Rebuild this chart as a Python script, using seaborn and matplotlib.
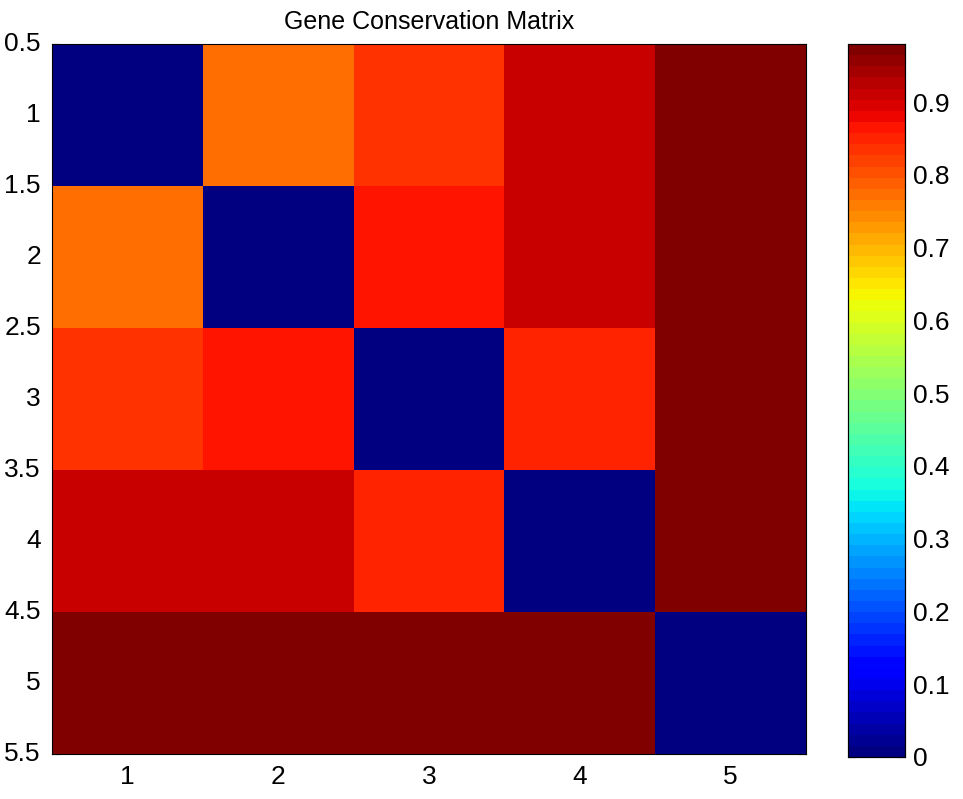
import numpy as np
import pandas as pd
import matplotlib
matplotlib.use('Agg')
import matplotlib.pyplot as plt
import seaborn as sns

# gene labels and pairwise conservation values
genes = [1, 2, 3, 4, 5]
row1 = [0.00, 0.775, 0.835, 0.91, 0.98]
row2 = [0.775, 0.00, 0.865, 0.91, 0.98]
row3 = [0.835, 0.865, 0.00, 0.85, 0.98]
row4 = [0.91, 0.91, 0.85, 0.00, 0.98]
row5 = [0.98, 0.98, 0.98, 0.98, 0.00]

df = pd.DataFrame([row1, row2, row3, row4, row5], index=genes, columns=genes)

sns.set_style('ticks')
plt.rcParams['font.family'] = ['Liberation Sans', 'DejaVu Sans']
plt.rcParams['text.color'] = 'black'
plt.rcParams['xtick.color'] = 'black'
plt.rcParams['ytick.color'] = 'black'

fig = plt.figure(figsize=(9.63, 7.99), dpi=100)
ax = fig.add_axes([0.054, 0.0563, 0.783, 0.8886])
cax = fig.add_axes([0.8806, 0.0526, 0.0592, 0.8923])

jet = plt.get_cmap('jet', 64)
sns.heatmap(df, ax=ax, cmap=jet, vmin=0, vmax=df.values.max(),
            cbar_ax=cax, square=False, linewidths=0)

# matlab style axis ticks
ypos = np.arange(0, 5.01, 0.5)
ax.set_yticks(ypos)
ax.set_yticklabels([f'{p + 0.5:g}' for p in ypos], rotation=0, fontsize=19)
ax.set_xticks(np.arange(len(genes)) + 0.5)
ax.set_xticklabels(genes, fontsize=19)
ax.tick_params(direction='in', length=6, width=0.8, bottom=True, left=True,
               top=True, right=True, labeltop=False, labelright=False, pad=8)
for s in ax.spines.values():
    s.set_visible(True)
    s.set_linewidth(0.8)
    s.set_color('black')
ax.set_title('Gene Conservation Matrix', fontsize=18, pad=11)

cticks = np.arange(0, 0.95, 0.1).round(1)
cax.set_yticks(cticks)
cax.set_yticklabels([f'{t:g}' for t in cticks], fontsize=19)
cax.tick_params(direction='in', length=6, width=0.8, left=True, right=True, pad=6)
for s in cax.spines.values():
    s.set_visible(True)
    s.set_linewidth(0.8)
    s.set_color('black')

fig.savefig('out.png', dpi=100)
